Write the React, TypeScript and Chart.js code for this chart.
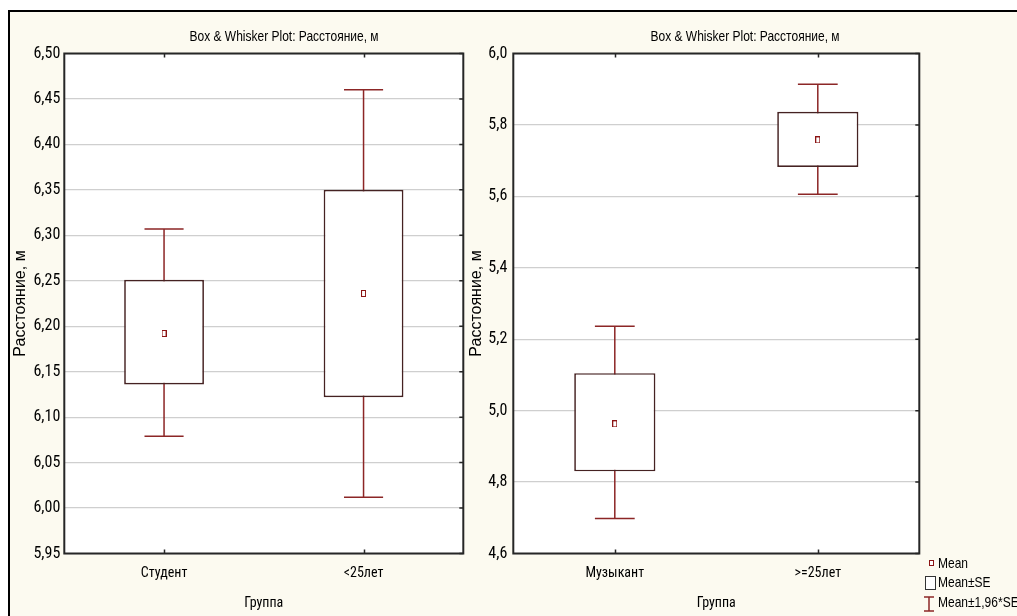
import React, { useEffect, useRef } from 'react';
import { Chart, registerables } from 'chart.js';

Chart.register(...registerables);

const NARROW = "'Roboto Condensed', 'Liberation Sans Narrow', 'Liberation Sans', sans-serif";
const REGULAR = "'Liberation Sans', Arial, sans-serif";
const TEXT_SCALE_X = 0.8;

const BOX_COLOR = '#452222';
const WHISKER_COLOR = '#8c2626';
const MEAN_COLOR = '#8b1414';
const GRID_COLOR = '#cfcfcf';
const FRAME_COLOR = '#262626';

const chartTitle = 'Box & Whisker Plot: Расстояние, м';
const yAxisTitle = 'Расстояние, м';
const xAxisTitle = 'Группа';

// Left plot
const leftCategories = ['Студент', '<25лет'];
const leftMean = [6.192, 6.236];
const leftSeLow = [6.136, 6.122];
const leftSeHigh = [6.251, 6.35];
const leftCiLow = [6.079, 6.012];
const leftCiHigh = [6.307, 6.46];
const leftTickValues = [5.95, 6.0, 6.05, 6.1, 6.15, 6.2, 6.25, 6.3, 6.35, 6.4, 6.45, 6.5];
const leftTickLabels = ['5,95', '6,00', '6,05', '6,10', '6,15', '6,20', '6,25', '6,30', '6,35', '6,40', '6,45', '6,50'];

// Right plot
const rightCategories = ['Музыкант', '>=25лет'];
const rightMean = [4.963, 5.758];
const rightSeLow = [4.83, 5.682];
const rightSeHigh = [5.105, 5.837];
const rightCiLow = [4.698, 5.606];
const rightCiHigh = [5.236, 5.914];
const rightTickValues = [4.6, 4.8, 5.0, 5.2, 5.4, 5.6, 5.8, 6.0];
const rightTickLabels = ['4,6', '4,8', '5,0', '5,2', '5,4', '5,6', '5,8', '6,0'];

const legendLabels = ['Mean', 'Mean±SE', 'Mean±1,96*SE'];

type Spec = {
  categories: string[];
  mean: number[];
  seLow: number[];
  seHigh: number[];
  ciLow: number[];
  ciHigh: number[];
  tickValues: number[];
  tickLabels: string[];
  yAxisWidth: number;
  padRight: number;
  yTitlePad: number;
  yTickPad: number;
  titleX: number;
};

function makeMarker(): HTMLCanvasElement {
  const c = document.createElement('canvas');
  c.width = 5;
  c.height = 7;
  const g = c.getContext('2d')!;
  g.fillStyle = MEAN_COLOR;
  g.fillRect(0, 0, 5, 7);
  g.fillStyle = '#ffffff';
  g.fillRect(1, 1, 3, 5);
  return c;
}

function extrasPlugin(spec: Spec) {
  return {
    id: 'boxExtras',
    beforeDraw(chart: any) {
      const { ctx, chartArea: a } = chart;
      ctx.save();
      ctx.fillStyle = '#ffffff';
      ctx.fillRect(a.left, a.top, a.right - a.left, a.bottom - a.top);
      ctx.restore();
    },
    beforeDatasetsDraw(chart: any) {
      const { ctx, chartArea: a, scales } = chart;
      const xs = scales.x;
      const ys = scales.y;
      const catW = (a.right - a.left) / spec.categories.length;
      const capHalf = catW * 0.098;
      ctx.save();
      ctx.strokeStyle = WHISKER_COLOR;
      ctx.lineWidth = 1.5;
      spec.categories.forEach((_c, i) => {
        const x = xs.getPixelForValue(i);
        const yLo = ys.getPixelForValue(spec.ciLow[i]);
        const yHi = ys.getPixelForValue(spec.ciHigh[i]);
        ctx.beginPath();
        ctx.moveTo(x, yLo);
        ctx.lineTo(x, yHi);
        ctx.moveTo(x - capHalf, yLo);
        ctx.lineTo(x + capHalf, yLo);
        ctx.moveTo(x - capHalf, yHi);
        ctx.lineTo(x + capHalf, yHi);
        ctx.stroke();
      });
      ctx.restore();
    },
    afterDraw(chart: any) {
      const { ctx, chartArea: a, scales } = chart;
      const xs = scales.x;
      const ys = scales.y;
      ctx.save();
      // inward tick marks
      ctx.strokeStyle = FRAME_COLOR;
      ctx.lineWidth = 1.5;
      ctx.beginPath();
      spec.categories.forEach((_c, i) => {
        const x = Math.round(xs.getPixelForValue(i)) + 0.5;
        ctx.moveTo(x, a.top);
        ctx.lineTo(x, a.top + 4);
        ctx.moveTo(x, a.bottom);
        ctx.lineTo(x, a.bottom - 4);
      });
      spec.tickValues.forEach((v) => {
        const y = ys.getPixelForValue(v);
        ctx.moveTo(a.right, y);
        ctx.lineTo(a.right - 4, y);
      });
      ctx.stroke();
      // frame
      ctx.lineWidth = 2;
      ctx.strokeRect(a.left, a.top, a.right - a.left, a.bottom - a.top);
      // title (condensed look)
      ctx.translate(spec.titleX, 40.5);
      ctx.scale(TEXT_SCALE_X, 1);
      ctx.fillStyle = '#000';
      ctx.font = `15px ${REGULAR}`;
      ctx.textAlign = 'center';
      ctx.textBaseline = 'alphabetic';
      ctx.fillText(chartTitle, 0, 0);
      ctx.restore();
    },
  };
}

function createBoxChart(canvas: HTMLCanvasElement, spec: Spec) {
  const marker = makeMarker();
  return new Chart(canvas, {
    type: 'bar',
    data: {
      labels: spec.categories,
      datasets: [
        {
          type: 'bar',
          label: legendLabels[1],
          data: spec.seLow.map((l, i) => [l, spec.seHigh[i]]) as any,
          backgroundColor: '#ffffff',
          borderColor: BOX_COLOR,
          borderWidth: 1.7,
          borderSkipped: false,
          barPercentage: 0.4,
          categoryPercentage: 1,
          order: 2,
        } as any,
        {
          type: 'line',
          label: legendLabels[0],
          data: spec.mean,
          showLine: false,
          pointStyle: marker,
          pointRadius: 3,
          pointHoverRadius: 3,
          order: 1,
        } as any,
      ],
    },
    options: {
      animation: false,
      responsive: false,
      events: [],
      layout: { padding: { top: 53.5, right: spec.padRight, left: 0, bottom: 0 } },
      plugins: {
        legend: { display: false },
        tooltip: { enabled: false },
        title: { display: false },
      },
      scales: {
        x: {
          type: 'category',
          offset: true,
          grid: { display: false },
          border: { display: false },
          ticks: {
            color: '#000',
            font: { family: NARROW, size: 14 },
            padding: 3.5,
            maxRotation: 0,
            autoSkip: false,
          },
          title: {
            display: true,
            text: xAxisTitle,
            color: '#000',
            font: { family: NARROW, size: 14 },
            padding: { top: 0, bottom: 4.5 },
          },
          afterFit: (s: any) => {
            s.height = 62.5;
          },
        },
        y: {
          type: 'linear',
          min: spec.tickValues[0],
          max: spec.tickValues[spec.tickValues.length - 1],
          grid: { color: GRID_COLOR, lineWidth: 1.2, drawTicks: false },
          border: { display: false },
          afterBuildTicks: (s: any) => {
            s.ticks = spec.tickValues.map((v) => ({ value: v }));
          },
          ticks: {
            color: '#000',
            font: { family: NARROW, size: 16 },
            padding: spec.yTickPad,
            callback: (_v: any, i: number) => spec.tickLabels[i],
          },
          title: {
            display: true,
            text: yAxisTitle,
            color: '#000',
            font: { family: REGULAR, size: 16 },
            padding: { top: spec.yTitlePad, bottom: 0 },
          },
          afterFit: (s: any) => {
            s.width = spec.yAxisWidth;
          },
        },
      },
    } as any,
    plugins: [extrasPlugin(spec)],
  });
}

const LEFT_CANVAS = { left: 0, width: 480 };
const RIGHT_CANVAS = { left: 465, width: 470 };

export default function App() {
  const leftRef = useRef<HTMLCanvasElement>(null);
  const rightRef = useRef<HTMLCanvasElement>(null);

  useEffect(() => {
    const c1 = createBoxChart(leftRef.current!, {
      categories: leftCategories,
      mean: leftMean,
      seLow: leftSeLow,
      seHigh: leftSeHigh,
      ciLow: leftCiLow,
      ciHigh: leftCiHigh,
      tickValues: leftTickValues,
      tickLabels: leftTickLabels,
      yAxisWidth: 64.3,
      padRight: LEFT_CANVAS.width - 463.3,
      yTitlePad: 10.8,
      yTickPad: 4,
      titleX: 284 - LEFT_CANVAS.left,
    });
    const c2 = createBoxChart(rightRef.current!, {
      categories: rightCategories,
      mean: rightMean,
      seLow: rightSeLow,
      seHigh: rightSeHigh,
      ciLow: rightCiLow,
      ciHigh: rightCiHigh,
      tickValues: rightTickValues,
      tickLabels: rightTickLabels,
      yAxisWidth: 513.3 - RIGHT_CANVAS.left,
      padRight: RIGHT_CANVAS.left + RIGHT_CANVAS.width - 919.3,
      yTitlePad: 2.4,
      yTickPad: 6,
      titleX: 745 - RIGHT_CANVAS.left,
    });
    return () => {
      c1.destroy();
      c2.destroy();
    };
  }, []);

  const legendText: React.CSSProperties = {
    position: 'absolute',
    left: 937.5,
    height: 18,
    lineHeight: '18px',
    fontFamily: REGULAR,
    fontSize: 15,
    color: '#000',
    whiteSpace: 'nowrap',
    transform: `scaleX(${TEXT_SCALE_X})`,
    transformOrigin: 'left center',
  };

  return (
    <div
      style={{
        position: 'fixed',
        left: 0,
        top: 0,
        width: 1017,
        height: 616,
        overflow: 'hidden',
        background: '#ffffff',
      }}
    >
      <div
        style={{
          position: 'absolute',
          left: 8,
          top: 10,
          width: 1009,
          height: 606,
          background: '#fcfaf0',
          borderLeft: '2px solid #000',
          borderTop: '2px solid #000',
          boxSizing: 'border-box',
        }}
      />
      <canvas
        ref={leftRef}
        width={LEFT_CANVAS.width}
        height={616}
        style={{ position: 'absolute', left: LEFT_CANVAS.left, top: 0 }}
      />
      <canvas
        ref={rightRef}
        width={RIGHT_CANVAS.width}
        height={616}
        style={{ position: 'absolute', left: RIGHT_CANVAS.left, top: 0 }}
      />
      {/* legend */}
      <div
        style={{
          position: 'absolute',
          left: 929,
          top: 560,
          width: 5,
          height: 6,
          border: `1.3px solid ${MEAN_COLOR}`,
          background: '#fff',
          boxSizing: 'border-box',
        }}
      />
      <div style={{ ...legendText, top: 554 }}>{legendLabels[0]}</div>
      <div
        style={{
          position: 'absolute',
          left: 925,
          top: 576,
          width: 11,
          height: 14,
          border: '1.5px solid #333',
          background: '#fff',
          boxSizing: 'border-box',
        }}
      />
      <div style={{ ...legendText, top: 573 }}>{legendLabels[1]}</div>
      <svg
        width={12}
        height={16}
        style={{ position: 'absolute', left: 923, top: 596 }}
      >
        <g stroke={WHISKER_COLOR} strokeWidth={1.5} fill="none">
          <line x1={1} y1={1} x2={11} y2={1} />
          <line x1={6} y1={1} x2={6} y2={15} />
          <line x1={1} y1={15} x2={11} y2={15} />
        </g>
      </svg>
      <div style={{ ...legendText, top: 593 }}>{legendLabels[2]}</div>
    </div>
  );
}
